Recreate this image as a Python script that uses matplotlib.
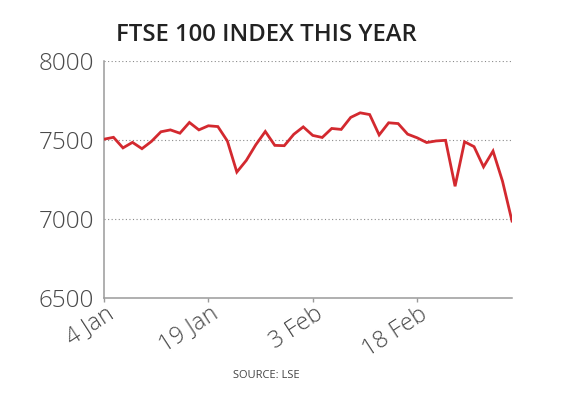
import matplotlib.pyplot as plt
import matplotlib.transforms as mtransforms
import pandas as pd

# FTSE 100 closing levels, trading days 2022
dates = ['2022-01-04', '2022-01-05', '2022-01-06', '2022-01-07', '2022-01-10',
         '2022-01-11', '2022-01-12', '2022-01-13', '2022-01-14', '2022-01-17',
         '2022-01-18', '2022-01-19', '2022-01-20', '2022-01-21', '2022-01-24',
         '2022-01-25', '2022-01-26', '2022-01-27', '2022-01-28', '2022-01-31',
         '2022-02-01', '2022-02-02', '2022-02-03', '2022-02-04', '2022-02-07',
         '2022-02-08', '2022-02-09', '2022-02-10', '2022-02-11', '2022-02-14',
         '2022-02-15', '2022-02-16', '2022-02-17', '2022-02-18', '2022-02-21',
         '2022-02-22', '2022-02-23', '2022-02-24', '2022-02-25', '2022-02-28',
         '2022-03-01', '2022-03-02', '2022-03-03', '2022-03-04']
closes = [7505, 7517, 7450, 7485, 7445, 7491, 7552, 7564, 7543, 7611,
          7564, 7590, 7585, 7494, 7297, 7371, 7470, 7554, 7466, 7464,
          7536, 7583, 7529, 7516, 7573, 7567, 7643, 7672, 7661, 7532,
          7609, 7604, 7537, 7514, 7484, 7494, 7498, 7207, 7489, 7458,
          7330, 7430, 7239, 6987]
y_ticks = [6500, 7000, 7500, 8000]
tick_every = 11

days = pd.to_datetime(dates)
x = list(range(len(closes)))
tick_pos = x[::tick_every][:4]
tick_lab = [f"{days[i].day} {days[i].strftime('%b')}" for i in tick_pos]

font = 'Open Sans'
grey_txt = '#4a4a4a'
axis_col = '#9a9a9a'

fig = plt.figure(figsize=(5.61, 3.98), dpi=100)
ax = fig.add_axes([104 / 561, 1 - 298 / 398, 408 / 561, 237 / 398])

for v in y_ticks[1:]:
    ax.axhline(v, color='#8a8a8a', lw=0.8, ls=(0, (1, 2.2)), zorder=1)

ax.plot(x, closes, color='#d3292f', lw=2.0, solid_joinstyle='miter', zorder=3)

ax.set_xlim(0, len(closes) - 1)
ax.set_ylim(6500, 8000)
ax.set_yticks(y_ticks)
ax.set_yticklabels([str(v) for v in y_ticks], family=font, fontsize=17.5,
                   color=grey_txt, fontweight='light')
ax.tick_params(axis='y', length=0, pad=7)
ax.set_xticks(tick_pos)
ax.set_xticklabels(tick_lab, family=font, fontsize=17, color=grey_txt,
                   fontweight='light', rotation=33, ha='right', va='top',
                   rotation_mode='anchor')
ax.tick_params(axis='x', length=3, width=1, color=axis_col, pad=0)
shift = mtransforms.ScaledTranslation(2 / 100, 0, fig.dpi_scale_trans)
for lab in ax.get_xticklabels():
    lab.set_transform(lab.get_transform() + shift)

for s in ['top', 'right']:
    ax.spines[s].set_visible(False)
for s in ['left', 'bottom']:
    ax.spines[s].set_color(axis_col)
    ax.spines[s].set_linewidth(1.1)

fig.text(266 / 561, 1 - 35 / 398, 'FTSE 100 INDEX THIS YEAR', family=font,
         fontsize=17.2, fontweight='semibold', color='#222222', ha='center', va='center')
fig.text(266 / 561, 1 - 376 / 398, 'SOURCE: LSE', family=font, fontsize=8,
         color='#444444', ha='center', va='center')

fig.savefig('out.png', dpi=100)
